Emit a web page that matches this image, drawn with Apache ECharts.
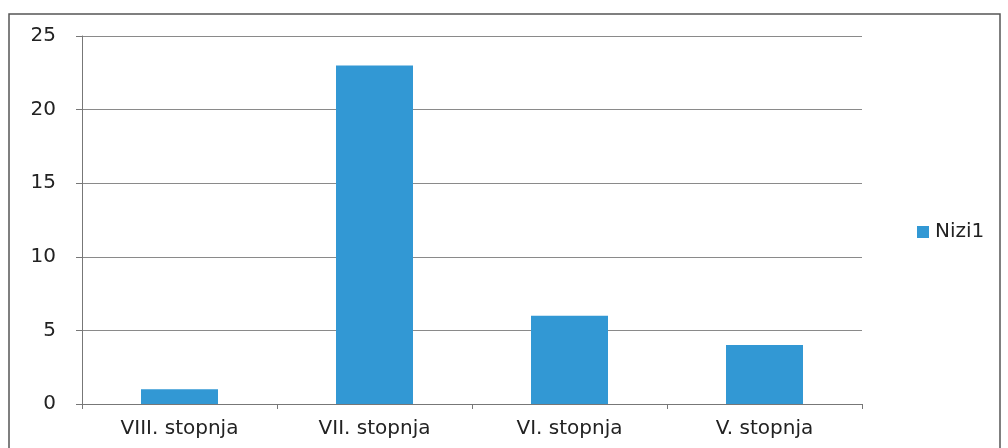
<!DOCTYPE html>
<html>
<head>
<meta charset="utf-8">
<script src="https://cdn.jsdelivr.net/npm/echarts@6/dist/echarts.min.js"></script>
<style>
html,body{margin:0;padding:0;background:#fff;}
#chart{width:1008px;height:448px;}
</style>
</head>
<body>
<div id="chart"></div>
<script>
const categories = ['VIII. stopnja', 'VII. stopnja', 'VI. stopnja', 'V. stopnja'];
const seriesName = 'Nizi1';
const values = [1, 23, 6, 4];
const yTicks = [0, 5, 10, 15, 20, 25];

const chart = echarts.init(document.getElementById('chart'));
const font = 'DejaVu Sans';
chart.setOption({
  animation: false,
  backgroundColor: '#ffffff',
  graphic: [{
    type: 'rect',
    shape: {x: 9, y: 14, width: 991, height: 450},
    style: {fill: 'none', stroke: '#555', lineWidth: 1.5},
    silent: true
  }],
  grid: {left: 82, right: 146, top: 36, bottom: 44, containLabel: false},
  legend: {
    data: [seriesName],
    orient: 'vertical',
    left: 912,
    top: 217,
    itemWidth: 12,
    itemHeight: 12,
    itemGap: 8,
    icon: 'rect',
    textStyle: {fontFamily: font, fontSize: 20, color: '#222', padding: [0, 0, 0, 1]}
  },
  xAxis: {
    type: 'category',
    data: categories,
    axisLine: {lineStyle: {color: '#777', width: 1}},
    axisTick: {show: true, length: 5, lineStyle: {color: '#777'}},
    axisLabel: {fontFamily: font, fontSize: 20, color: '#222', margin: 15}
  },
  yAxis: {
    type: 'value',
    min: yTicks[0],
    max: yTicks[yTicks.length - 1],
    interval: 5,
    axisLine: {show: true, lineStyle: {color: '#777', width: 1}},
    axisTick: {show: true, length: 6, lineStyle: {color: '#777'}},
    splitLine: {lineStyle: {color: '#8a8a8a', width: 1}},
    axisLabel: {fontFamily: font, fontSize: 20, color: '#222', margin: 26}
  },
  series: [{
    name: seriesName,
    type: 'bar',
    data: values,
    barWidth: 77,
    itemStyle: {color: '#3298d4'}
  }]
});
</script>
</body>
</html>
